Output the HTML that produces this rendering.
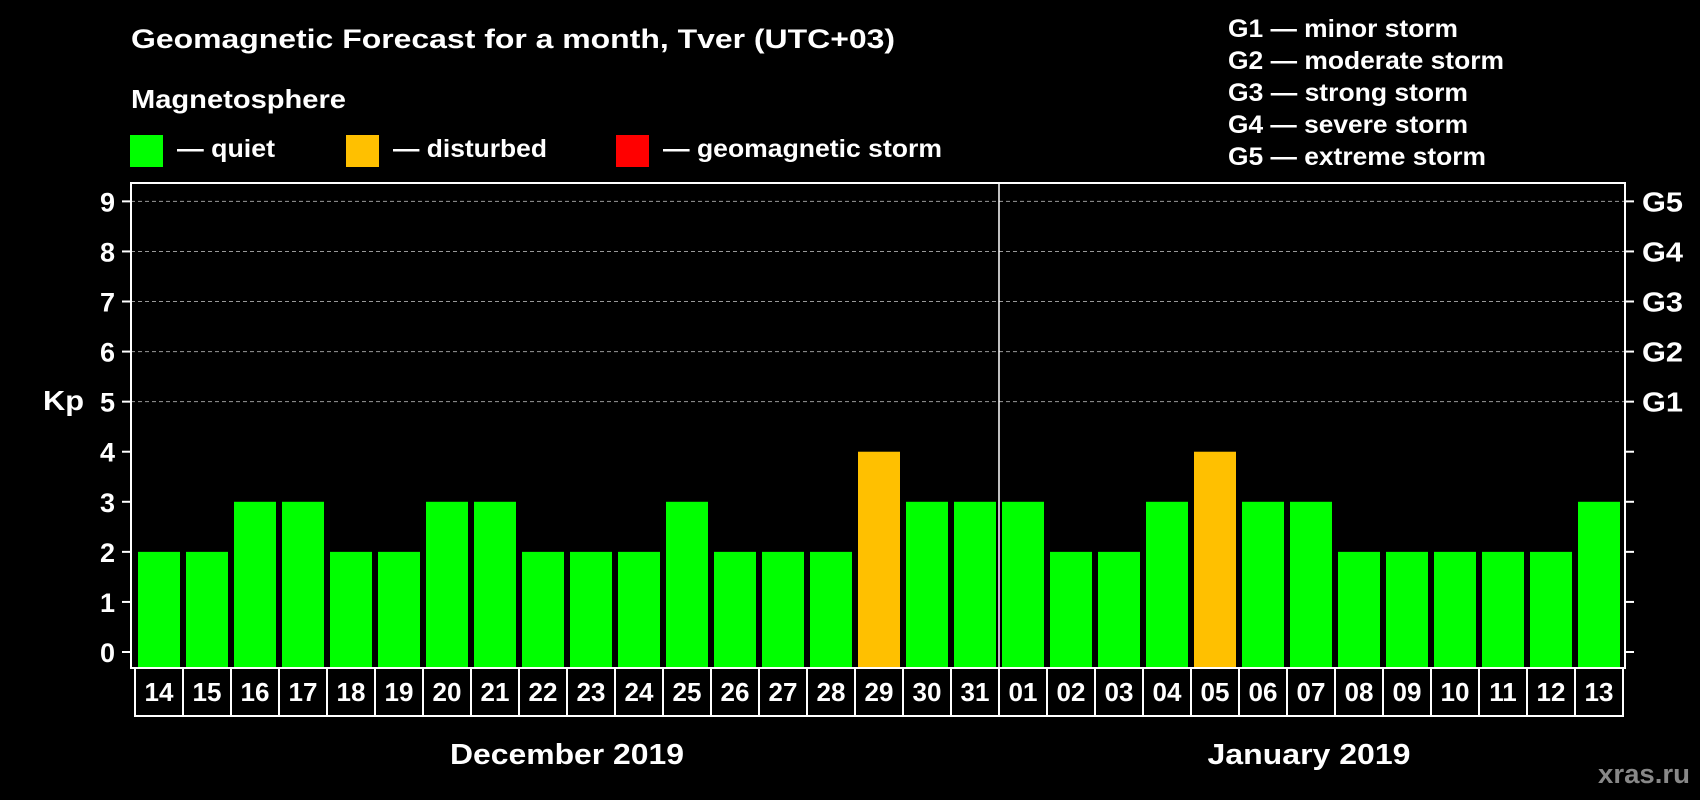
<!DOCTYPE html>
<html><head><meta charset="utf-8"><style>
html,body{margin:0;padding:0;background:#000;width:1700px;height:800px;overflow:hidden}
svg{display:block;font-family:"Liberation Sans",Arial,sans-serif;font-weight:bold}
</style></head><body>
<svg id="chart" width="1700" height="800" viewBox="0 0 1700 800" xmlns="http://www.w3.org/2000/svg">
<rect width="1700" height="800" fill="#000"/>
<text x="131" y="48" fill="#fff" font-size="27" textLength="764" lengthAdjust="spacingAndGlyphs">Geomagnetic Forecast for a month, Tver (UTC+03)</text>
<text x="131" y="108" fill="#fff" font-size="26" textLength="215" lengthAdjust="spacingAndGlyphs">Magnetosphere</text>
<g><rect x="130" y="135" width="33" height="32" fill="#00ff00"/><text x="177" y="157" fill="#fff" font-size="25" textLength="98" lengthAdjust="spacingAndGlyphs">— quiet</text></g>
<g><rect x="346" y="135" width="33" height="32" fill="#ffc000"/><text x="393" y="157" fill="#fff" font-size="25" textLength="154" lengthAdjust="spacingAndGlyphs">— disturbed</text></g>
<g><rect x="616" y="135" width="33" height="32" fill="#ff0000"/><text x="663" y="157" fill="#fff" font-size="25" textLength="279" lengthAdjust="spacingAndGlyphs">— geomagnetic storm</text></g>
<g fill="#fff" font-size="25">
<text x="1228" y="37" textLength="230" lengthAdjust="spacingAndGlyphs">G1 — minor storm</text>
<text x="1228" y="69" textLength="276" lengthAdjust="spacingAndGlyphs">G2 — moderate storm</text>
<text x="1228" y="101" textLength="240" lengthAdjust="spacingAndGlyphs">G3 — strong storm</text>
<text x="1228" y="133" textLength="240" lengthAdjust="spacingAndGlyphs">G4 — severe storm</text>
<text x="1228" y="165" textLength="258" lengthAdjust="spacingAndGlyphs">G5 — extreme storm</text>
</g>
<text x="43" y="410" fill="#fff" font-size="28" textLength="41" lengthAdjust="spacingAndGlyphs">Kp</text>
<g id="grid"></g>
<g id="bars"></g>
<g id="axes"></g>
<text x="567" y="764" fill="#fff" font-size="29" text-anchor="middle" textLength="234" lengthAdjust="spacingAndGlyphs">December 2019</text>
<text x="1309" y="764" fill="#fff" font-size="29" text-anchor="middle" textLength="203" lengthAdjust="spacingAndGlyphs">January 2019</text>
<text x="1690" y="783" fill="#888" font-size="27" text-anchor="end" textLength="92" lengthAdjust="spacingAndGlyphs">xras.ru</text>
</svg>
<script>
const days = ["14","15","16","17","18","19","20","21","22","23","24","25","26","27","28","29","30","31","01","02","03","04","05","06","07","08","09","10","11","12","13"];
const kpValues = [2,2,3,3,2,2,3,3,2,2,2,3,2,2,2,4,3,3,3,2,2,3,4,3,3,2,2,2,2,2,3];
const yTicks = [0,1,2,3,4,5,6,7,8,9];
const stormLabels = ["G1","G2","G3","G4","G5"];
const stormLevels = [5,6,7,8,9];

const NS="http://www.w3.org/2000/svg";
const plotL=131, plotR=1625, plotT=183, plotB=668;
const y0=652, unit=50.07;
const firstBar=138, slot=48, barW=42;
function yScale(v){return y0 - v*unit;}
function xScale(i){return firstBar + i*slot;}
function mk(tag,attrs,parent){const e=document.createElementNS(NS,tag);for(const k in attrs)e.setAttribute(k,attrs[k]);parent.appendChild(e);return e;}
function color(v){return v>=5?"#ff0000":(v>=4?"#ffc000":"#00ff00");}

const grid=document.getElementById("grid"), bars=document.getElementById("bars"), axes=document.getElementById("axes");
stormLevels.forEach(v=>{
  const l=mk("line",{x1:plotL,x2:plotR,y1:yScale(v),y2:yScale(v),stroke:"#999","stroke-width":1,"stroke-dasharray":"4,3"},grid);
  
  
});
kpValues.forEach((v,i)=>{
  const r=mk("rect",{x:xScale(i),y:yScale(v),width:barW,height:plotB-yScale(v),fill:color(v)},bars);
  
  
});
const fr=mk("rect",{x:plotL,y:plotT,width:plotR-plotL,height:plotB-plotT,fill:"none",stroke:"#fff","stroke-width":2},axes);


const div=mk("line",{x1:xScale(18)-3,x2:xScale(18)-3,y1:plotT,y2:plotB,stroke:"#fff","stroke-width":1.5},axes);


yTicks.forEach(v=>{
  const y=yScale(v);
  mk("line",{x1:122,x2:plotL,y1:y,y2:y,stroke:"#fff","stroke-width":2},axes);
  mk("line",{x1:plotR,x2:1634,y1:y,y2:y,stroke:"#fff","stroke-width":2},axes);
  const t=mk("text",{x:115,y:y+10,fill:"#fff","font-size":27,"text-anchor":"end"},axes);
  t.textContent=v;
  
  
});
stormLabels.forEach((g,i)=>{
  const t=mk("text",{x:1642,y:yScale(stormLevels[i])+10,fill:"#fff","font-size":28,textLength:41,lengthAdjust:"spacingAndGlyphs"},axes);
  t.textContent=g;
  
  
});
days.forEach((d,i)=>{
  const bx=xScale(i)-3;
  const r=mk("rect",{x:bx,y:plotB,width:slot,height:48,fill:"none",stroke:"#fff","stroke-width":2},axes);
  
  
  const t=mk("text",{x:bx+slot/2,y:701,fill:"#fff","font-size":26,"text-anchor":"middle"},axes);
  t.textContent=d;
  
  
});
</script>
</body></html>
